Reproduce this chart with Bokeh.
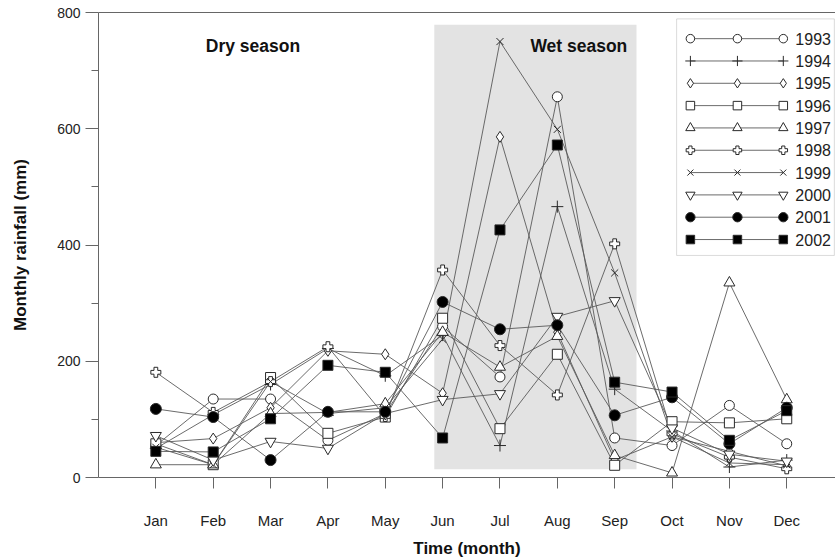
from bokeh.plotting import figure
from bokeh.models import FixedTicker, LinearAxis, BoxAnnotation, Range1d, Label
from bokeh.core.properties import value
from bokeh.embed import file_html
from bokeh.resources import INLINE

months = ["Jan", "Feb", "Mar", "Apr", "May", "Jun", "Jul", "Aug", "Sep", "Oct", "Nov", "Dec"]
month_pos = list(range(1, 13))

years = ["1993", "1994", "1995", "1996", "1997", "1998", "1999", "2000", "2001", "2002"]
r1993 = [55, 135, 135, 64, 110, 260, 173, 655, 68, 55, 124, 58]
r1994 = [50, 108, 160, 222, 175, 245, 55, 466, 152, 80, 18, 30]
r1995 = [60, 67, 120, 218, 212, 145, 586, 250, 30, 70, 45, 20]
r1996 = [58, 22, 172, 76, 104, 274, 84, 212, 21, 96, 94, 101]
r1997 = [22, 22, 110, 112, 127, 250, 190, 243, 38, 8, 335, 134]
r1998 = [181, 112, 165, 225, 105, 357, 227, 142, 402, 75, 35, 15]
r1999 = [52, 22, 165, 110, 120, 238, 750, 599, 352, 70, 25, 22]
r2000 = [72, 30, 62, 50, 110, 134, 144, 277, 304, 85, 40, 28]
r2001 = [118, 104, 30, 113, 113, 302, 255, 262, 107, 138, 58, 120]
r2002 = [45, 44, 101, 193, 181, 68, 426, 572, 164, 147, 64, 115]
series = [r1993, r1994, r1995, r1996, r1997, r1998, r1999, r2000, r2001, r2002]

markers = ["circle", "cross", "diamond", "square", "triangle", "plus", "x", "inverted_triangle", "circle", "square"]
sizes = [10, 12, 11, 10, 11, 10, 10, 11, 11, 10]
fills = ["white"] * 8 + ["black", "black"]

FONT = "Liberation Sans"
LINE = "#5a5a5a"
MK = "#2a2a2a"

p = figure(width=835, height=560, x_range=Range1d(0, 12.85), y_range=Range1d(0, 800),
           output_backend="svg", toolbar_location=None,
           min_border_left=98, min_border_right=0, min_border_top=12, min_border_bottom=81)
p.xgrid.visible = False
p.ygrid.visible = False
p.outline_line_color = None
p.background_fill_color = "white"

# Wet season shading
wet = BoxAnnotation(left=5.855, right=9.38, bottom=14, top=779,
                    fill_color="#e3e3e3", fill_alpha=1, line_color=None, level="underlay")
p.add_layout(wet)

# axes
for ax in (p.xaxis[0], p.yaxis[0]):
    ax.axis_line_color = "#666666"
    ax.major_tick_line_color = "#666666"
    ax.minor_tick_line_color = "#666666"
    ax.major_label_text_font = FONT
    ax.major_label_text_color = "#222222"
    ax.axis_label_text_font = FONT
    ax.axis_label_text_font_style = "bold"
    ax.axis_label_text_font_size = "17px"
    ax.axis_label_text_color = "#111111"
    ax.major_tick_in = 0

p.xaxis.ticker = FixedTicker(ticks=month_pos)
p.xaxis.major_label_overrides = {m: lab for m, lab in zip(month_pos, months)}
p.xaxis.major_label_text_font_size = "15px"
p.xaxis.major_tick_out = 11
p.xaxis.minor_tick_line_color = None
p.xaxis.major_label_standoff = 23
p.xaxis.axis_label = "Time (month)"
p.xaxis.axis_label_standoff = 7

p.yaxis.ticker = FixedTicker(ticks=[0, 200, 400, 600, 800], minor_ticks=[100, 300, 500, 700])
p.yaxis.major_label_text_font_size = "14px"
p.yaxis.major_tick_out = 13
p.yaxis.minor_tick_out = 7
p.yaxis.minor_tick_in = 0
p.yaxis.major_label_standoff = 5
p.yaxis.axis_label = "Monthly rainfall (mm)"
p.yaxis.axis_label_standoff = 24

top_ax = LinearAxis(ticker=FixedTicker(ticks=[]), axis_line_color="#666666",
                    major_tick_line_color=None, minor_tick_line_color=None,
                    major_label_text_font_size="0px")
p.add_layout(top_ax, "above")

# data lines then markers
for vals in series:
    p.line(month_pos, vals, line_color=LINE, line_width=0.9)
for vals, mk, sz, fc in zip(series, markers, sizes, fills):
    p.scatter(month_pos, vals, marker=mk, size=sz, fill_color=fc, line_color=MK, line_width=1)

# season labels
p.add_layout(Label(x=1.87, y=743, text="Dry season", text_font=FONT, text_font_style="bold",
                   text_font_size="17.5px", text_baseline="middle", text_color="#111111"))
p.add_layout(Label(x=7.53, y=743, text="Wet season", text_font=FONT, text_font_style="bold",
                   text_font_size="17.5px", text_baseline="middle", text_color="#111111"))

# legend (three markers on a line per entry)
LEG_L, LEG_R, LEG_T, LEG_B = 10.08, 12.83, 789, 382
legbox = BoxAnnotation(left=LEG_L, right=LEG_R, top=LEG_T, bottom=LEG_B, fill_color="white",
                       fill_alpha=1, line_color="#888888", line_width=1, level="underlay")
p.add_layout(legbox)
row0, row_step = 755, 38.4
mx = [10.32, 11.14, 11.94]
for i, (yr, mk, sz, fc) in enumerate(zip(years, markers, sizes, fills)):
    yy = row0 - i * row_step
    p.line([mx[0], mx[-1]], [yy, yy], line_color=LINE, line_width=0.9)
    p.scatter(mx, [yy] * 3, marker=mk, size=sz * 0.85, fill_color=fc, line_color=MK, line_width=1)
p.text(x=[12.15] * len(years), y=[row0 - i * row_step for i in range(len(years))], text=years,
       text_font=value(FONT), text_font_size="16px", text_baseline="middle", text_color="#222222")

open("out.html", "w").write(file_html(p, INLINE))
